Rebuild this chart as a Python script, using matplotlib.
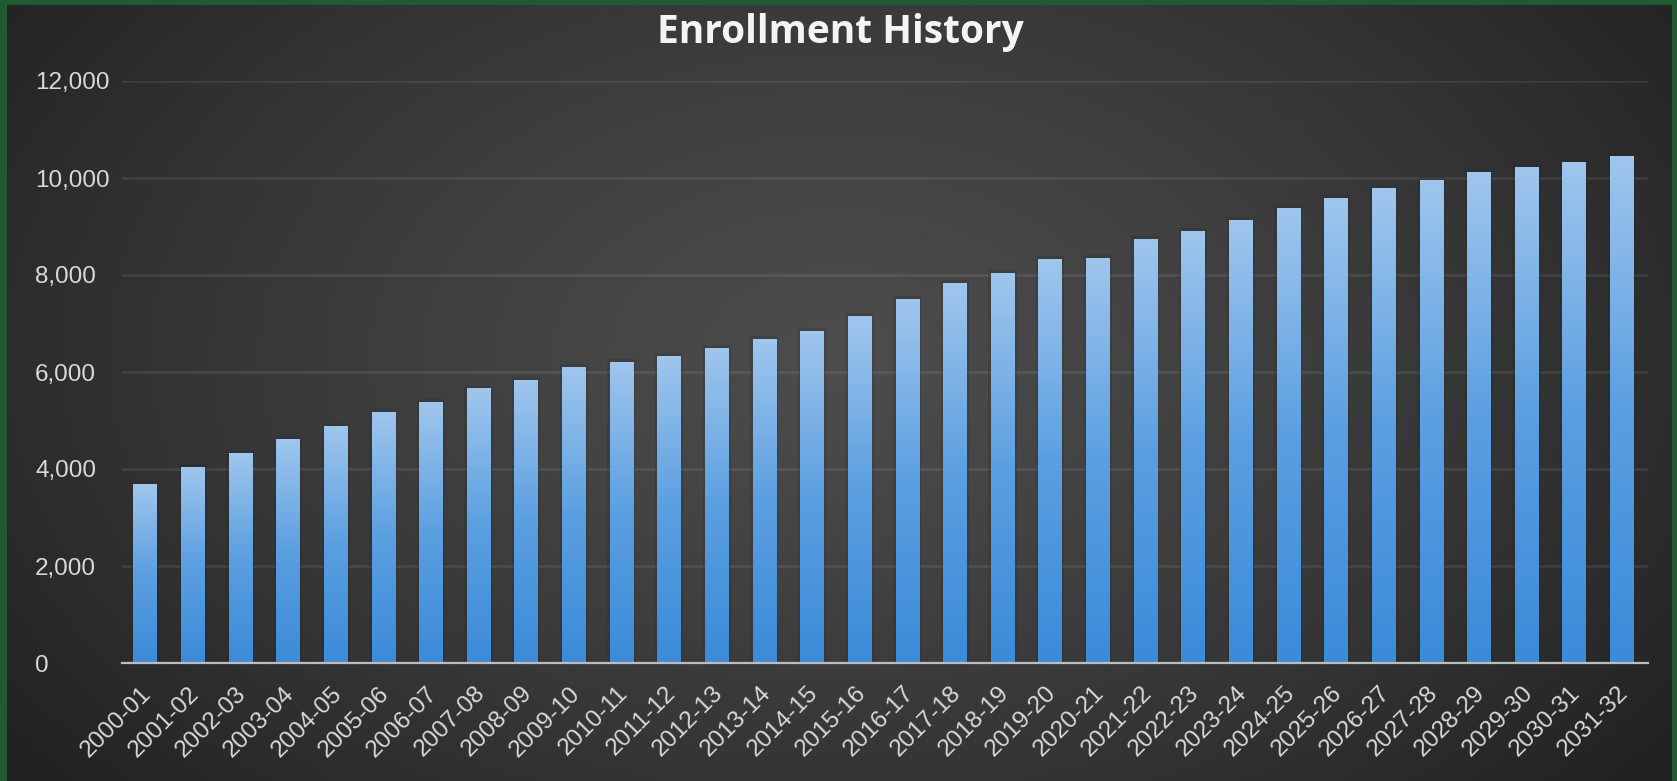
import numpy as np
import matplotlib
matplotlib.use("Agg")
import matplotlib.pyplot as plt
from matplotlib.ticker import FuncFormatter
from matplotlib.colors import LinearSegmentedColormap
import matplotlib.transforms as mtransforms

# ---------------- data ----------------
years = ["2000-01", "2001-02", "2002-03", "2003-04", "2004-05", "2005-06",
         "2006-07", "2007-08", "2008-09", "2009-10", "2010-11", "2011-12",
         "2012-13", "2013-14", "2014-15", "2015-16", "2016-17", "2017-18",
         "2018-19", "2019-20", "2020-21", "2021-22", "2022-23", "2023-24",
         "2024-25", "2025-26", "2026-27", "2027-28", "2028-29", "2029-30",
         "2030-31", "2031-32"]
enrollment = [3690, 4045, 4335, 4615, 4895, 5180, 5375, 5660, 5830, 6100,
              6205, 6340, 6505, 6680, 6840, 7150, 7500, 7827, 8035, 8338,
              8360, 8750, 8908, 9140, 9375, 9593, 9785, 9955, 10115, 10235,
              10340, 10460]
y_ticks = [0, 2000, 4000, 6000, 8000, 10000, 12000]
title = "Enrollment History"

# ---------------- figure ----------------
W, H, DPI = 1677, 781, 100
fig = plt.figure(figsize=(W / DPI, H / DPI), dpi=DPI, facecolor="#1f5a32")

# background with radial gradient
bg = fig.add_axes([7 / W, 0, (1672 - 7) / W, (H - 5) / H])
bg.axis("off")
ny, nx = 300, 700
yy, xx = np.mgrid[0:1:ny * 1j, 0:1:nx * 1j]
r = np.sqrt(((xx - 0.5) / 0.62) ** 2 + ((yy - 0.55) / 0.85) ** 2)
t = np.clip(r / 1.0, 0, 1) ** 1.3
c0 = np.array([0x4c, 0x4c, 0x4c]) / 255
c1 = np.array([0x22, 0x22, 0x22]) / 255
img = c0 + (c1 - c0) * t[..., None]
bg.imshow(img, extent=[0, 1, 0, 1], aspect="auto", origin="lower")
bg.set_xlim(0, 1)
bg.set_ylim(0, 1)

# main axes
x0, x1, ytop, ybot = 122, 1648, 81, 663
ax = fig.add_axes([x0 / W, (H - ybot) / H, (x1 - x0) / W, (ybot - ytop) / H])
ax.set_facecolor("none")
for s in ["top", "right", "left"]:
    ax.spines[s].set_visible(False)
ax.spines["bottom"].set_color("#bdbdbd")
ax.spines["bottom"].set_linewidth(1.6)
ax.spines["bottom"].set_zorder(5)

x = np.arange(len(years))
bar_w = 0.49

# soft dark halo behind bars
ax.bar(x, np.array(enrollment) + 60, width=bar_w + 0.1, color="#1a222b",
       alpha=0.18, zorder=2, linewidth=0)

bars = ax.bar(x, enrollment, width=bar_w, color="none", edgecolor="none",
              zorder=3)
cmap = LinearSegmentedColormap.from_list(
    "barg", ["#3b8bd9", "#5b9fe1", "#9fc6ed"])
grad = np.linspace(0, 1, 256).reshape(-1, 1)
for b in bars:
    im = ax.imshow(grad, extent=[b.get_x(), b.get_x() + b.get_width(),
                                 0, b.get_height()],
                   aspect="auto", origin="lower", cmap=cmap, zorder=3)
    im.set_clip_path(b)

ax.set_xlim(-0.483, 31.55)
ax.set_ylim(0, 12000)
ax.set_aspect("auto")

# grid
ax.set_yticks(y_ticks)
ax.yaxis.grid(True, color="white", alpha=0.09, linewidth=1.8)
ax.set_axisbelow(True)
ax.yaxis.set_major_formatter(FuncFormatter(lambda v, p: f"{int(v):,}"))
ax.tick_params(axis="y", length=0, pad=(x0 - 35) * 72 / DPI,
               labelsize=17.5, labelcolor="#d9d9d9")
for lbl in ax.get_yticklabels():
    lbl.set_horizontalalignment("left")
    lbl.set_family("Liberation Sans")

ax.set_xticks(x)
ax.set_xticklabels(years, rotation=45, ha="right", va="center",
                   rotation_mode="anchor", fontsize=17.5, color="#d9d9d9",
                   family="Liberation Sans")
ax.tick_params(axis="x", length=0, pad=27 * 72 / DPI)
offset = mtransforms.ScaledTranslation(3 / DPI, 0, fig.dpi_scale_trans)
for lbl in ax.get_xticklabels():
    lbl.set_transform(lbl.get_transform() + offset)

fig.text(840 / W, 1 - 43 / H, title, ha="center", va="baseline",
         fontsize=28, fontweight="bold", color="#f4f4f4", family="Open Sans")

fig.savefig("out.png", dpi=DPI, facecolor=fig.get_facecolor())
